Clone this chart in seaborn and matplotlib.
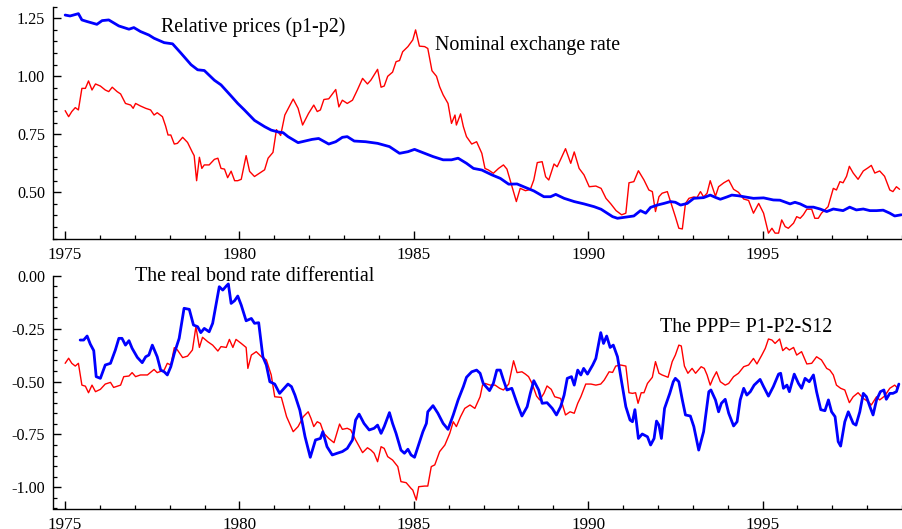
import numpy as np
import pandas as pd
import matplotlib
matplotlib.use("Agg")
import matplotlib.pyplot as plt
from matplotlib.ticker import MultipleLocator
import seaborn as sns

# ---------------- data ----------------
# Top panel: relative prices (p1-p2), blue
rp_t = [1975.00, 1975.14, 1975.38, 1975.48, 1975.63, 1975.91, 1976.06, 1976.25, 1976.54, 1976.83,
        1976.97, 1977.16, 1977.40, 1977.55, 1977.84, 1978.08, 1978.32, 1978.61, 1978.80, 1978.99,
        1979.28, 1979.47, 1979.76, 1979.95, 1980.14, 1980.43, 1980.72, 1980.91, 1981.11, 1981.25,
        1981.39, 1981.68, 1982.08, 1982.27, 1982.56, 1982.76, 1982.95, 1983.09, 1983.29, 1983.62,
        1983.96, 1984.30, 1984.59, 1984.83, 1985.02, 1985.31, 1985.55, 1985.84, 1986.08, 1986.27,
        1986.51, 1986.71, 1986.95, 1987.24, 1987.48, 1987.72, 1987.96, 1988.15, 1988.44, 1988.73,
        1988.92, 1989.07, 1989.31, 1989.60, 1989.88, 1990.17, 1990.37, 1990.70, 1990.84, 1991.03,
        1991.31, 1991.50, 1991.65, 1991.79, 1991.98, 1992.17, 1992.36, 1992.50, 1992.65, 1992.84,
        1993.03, 1993.31, 1993.50, 1993.65, 1993.79, 1993.98, 1994.12, 1994.31, 1994.50, 1994.74,
        1995.03, 1995.31, 1995.50, 1995.79, 1995.93, 1996.08, 1996.27, 1996.46, 1996.65, 1996.84,
        1997.03, 1997.31, 1997.50, 1997.69, 1997.89, 1998.08, 1998.27, 1998.46, 1998.65, 1998.79,
        1998.98]
rp_v = [1.264, 1.260, 1.270, 1.243, 1.236, 1.224, 1.240, 1.243, 1.217, 1.203,
        1.210, 1.193, 1.178, 1.164, 1.145, 1.140, 1.100, 1.050, 1.028, 1.025,
        0.983, 0.963, 0.915, 0.883, 0.855, 0.810, 0.783, 0.768, 0.760, 0.757,
        0.740, 0.714, 0.728, 0.732, 0.708, 0.718, 0.737, 0.740, 0.721, 0.718,
        0.711, 0.697, 0.668, 0.675, 0.685, 0.668, 0.654, 0.640, 0.640, 0.647,
        0.625, 0.603, 0.596, 0.575, 0.560, 0.535, 0.536, 0.524, 0.506, 0.481,
        0.481, 0.491, 0.474, 0.460, 0.450, 0.438, 0.427, 0.395, 0.388, 0.392,
        0.398, 0.421, 0.410, 0.435, 0.445, 0.452, 0.460, 0.457, 0.445, 0.452,
        0.474, 0.477, 0.488, 0.478, 0.470, 0.480, 0.488, 0.485, 0.480, 0.474,
        0.476, 0.467, 0.466, 0.450, 0.457, 0.450, 0.436, 0.436, 0.428, 0.417,
        0.428, 0.421, 0.436, 0.424, 0.428, 0.421, 0.421, 0.423, 0.410, 0.398,
        0.403]

# Top panel: nominal exchange rate, red
ne_t = [1975.00, 1975.10, 1975.19, 1975.29, 1975.38, 1975.48, 1975.58, 1975.67, 1975.77, 1975.87,
        1976.01, 1976.15, 1976.25, 1976.35, 1976.49, 1976.59, 1976.73, 1976.88, 1976.95, 1977.02,
        1977.16, 1977.31, 1977.45, 1977.55, 1977.64, 1977.79, 1977.88, 1977.95, 1978.03, 1978.13,
        1978.22, 1978.37, 1978.51, 1978.65, 1978.70, 1978.77, 1978.85, 1978.92, 1978.99, 1979.13,
        1979.28, 1979.38, 1979.47, 1979.57, 1979.66, 1979.76, 1979.86, 1979.95, 1980.05, 1980.19,
        1980.29, 1980.43, 1980.58, 1980.72, 1980.82, 1980.96, 1981.06, 1981.18, 1981.30, 1981.54,
        1981.68, 1981.81, 1981.98, 1982.13, 1982.23, 1982.32, 1982.42, 1982.56, 1982.76, 1982.85,
        1982.95, 1983.09, 1983.24, 1983.38, 1983.53, 1983.67, 1983.77, 1983.86, 1983.96, 1984.06,
        1984.15, 1984.25, 1984.39, 1984.49, 1984.59, 1984.68, 1984.83, 1984.97, 1985.05, 1985.16,
        1985.31, 1985.40, 1985.52, 1985.65, 1985.74, 1985.84, 1985.98, 1986.08, 1986.18, 1986.22,
        1986.34, 1986.42, 1986.51, 1986.66, 1986.80, 1986.95, 1987.04, 1987.14, 1987.28, 1987.43,
        1987.57, 1987.67, 1987.76, 1987.94, 1988.05, 1988.20, 1988.34, 1988.44, 1988.54, 1988.68,
        1988.78, 1988.87, 1989.02, 1989.11, 1989.21, 1989.35, 1989.50, 1989.60, 1989.74, 1989.88,
        1990.03, 1990.22, 1990.37, 1990.51, 1990.65, 1990.80, 1990.96, 1991.08, 1991.17, 1991.31,
        1991.44, 1991.60, 1991.74, 1991.84, 1991.93, 1992.03, 1992.12, 1992.27, 1992.41, 1992.50,
        1992.60, 1992.70, 1992.79, 1992.89, 1993.03, 1993.12, 1993.22, 1993.31, 1993.41, 1993.50,
        1993.65, 1993.74, 1993.89, 1994.03, 1994.17, 1994.31, 1994.46, 1994.60, 1994.74, 1994.89,
        1995.03, 1995.17, 1995.27, 1995.36, 1995.46, 1995.55, 1995.65, 1995.74, 1995.89, 1995.98,
        1996.08, 1996.17, 1996.27, 1996.41, 1996.50, 1996.60, 1996.69, 1996.88, 1997.03, 1997.12,
        1997.22, 1997.31, 1997.41, 1997.49, 1997.60, 1997.74, 1997.89, 1998.03, 1998.12, 1998.22,
        1998.36, 1998.50, 1998.65, 1998.74, 1998.84, 1998.93]
ne_v = [0.852, 0.826, 0.848, 0.865, 0.855, 0.948, 0.948, 0.980, 0.941, 0.967,
        0.958, 0.941, 0.934, 0.953, 0.934, 0.924, 0.883, 0.876, 0.862, 0.883,
        0.872, 0.862, 0.855, 0.833, 0.843, 0.826, 0.786, 0.747, 0.747, 0.708,
        0.711, 0.737, 0.715, 0.672, 0.658, 0.550, 0.651, 0.603, 0.618, 0.618,
        0.642, 0.647, 0.603, 0.600, 0.563, 0.591, 0.550, 0.550, 0.556, 0.658,
        0.590, 0.568, 0.583, 0.597, 0.647, 0.672, 0.770, 0.745, 0.833, 0.902,
        0.862, 0.790, 0.840, 0.876, 0.848, 0.855, 0.900, 0.903, 0.943, 0.868,
        0.897, 0.883, 0.897, 0.941, 0.991, 0.967, 0.984, 1.006, 1.030, 0.953,
        0.958, 1.000, 1.018, 1.063, 1.068, 1.106, 1.128, 1.157, 1.200, 1.130,
        1.128, 1.120, 1.024, 1.000, 0.955, 0.920, 0.883, 0.797, 0.833, 0.790,
        0.838, 0.783, 0.740, 0.708, 0.718, 0.668, 0.603, 0.596, 0.582, 0.603,
        0.618, 0.600, 0.553, 0.460, 0.517, 0.507, 0.512, 0.553, 0.628, 0.632,
        0.567, 0.553, 0.622, 0.610, 0.642, 0.688, 0.625, 0.674, 0.603, 0.575,
        0.524, 0.527, 0.517, 0.474, 0.450, 0.421, 0.403, 0.410, 0.541, 0.546,
        0.593, 0.553, 0.510, 0.503, 0.417, 0.481, 0.496, 0.503, 0.438, 0.395,
        0.345, 0.342, 0.452, 0.474, 0.480, 0.477, 0.503, 0.480, 0.496, 0.550,
        0.483, 0.524, 0.541, 0.553, 0.513, 0.500, 0.471, 0.465, 0.410, 0.452,
        0.410, 0.324, 0.345, 0.324, 0.324, 0.381, 0.352, 0.345, 0.367, 0.395,
        0.388, 0.403, 0.427, 0.427, 0.388, 0.388, 0.410, 0.438, 0.517, 0.510,
        0.546, 0.541, 0.569, 0.612, 0.583, 0.556, 0.592, 0.606, 0.616, 0.583,
        0.592, 0.569, 0.510, 0.503, 0.524, 0.513]

# Bottom panel: real bond rate differential, blue
bd_t = [1975.43, 1975.53, 1975.63, 1975.72, 1975.82, 1975.89, 1976.01, 1976.15, 1976.30, 1976.44,
        1976.54, 1976.63, 1976.73, 1976.83, 1976.92, 1977.07, 1977.21, 1977.31, 1977.40, 1977.50,
        1977.64, 1977.74, 1977.84, 1977.93, 1978.03, 1978.13, 1978.27, 1978.41, 1978.56, 1978.68,
        1978.80, 1978.89, 1978.99, 1979.13, 1979.23, 1979.42, 1979.52, 1979.62, 1979.68, 1979.76,
        1979.86, 1979.95, 1980.05, 1980.19, 1980.34, 1980.43, 1980.55, 1980.67, 1980.77, 1980.87,
        1981.01, 1981.15, 1981.39, 1981.49, 1981.59, 1981.73, 1981.88, 1982.03, 1982.18, 1982.32,
        1982.39, 1982.51, 1982.66, 1982.80, 1982.95, 1983.09, 1983.24, 1983.33, 1983.43, 1983.57,
        1983.72, 1983.86, 1983.96, 1984.06, 1984.15, 1984.30, 1984.39, 1984.49, 1984.63, 1984.73,
        1984.83, 1984.92, 1985.02, 1985.12, 1985.26, 1985.36, 1985.40, 1985.55, 1985.69, 1985.84,
        1985.98, 1986.13, 1986.27, 1986.42, 1986.51, 1986.66, 1986.80, 1986.90, 1986.99, 1987.17,
        1987.28, 1987.38, 1987.48, 1987.57, 1987.67, 1987.81, 1987.96, 1988.10, 1988.25, 1988.34,
        1988.44, 1988.58, 1988.68, 1988.82, 1988.97, 1989.09, 1989.21, 1989.31, 1989.40, 1989.52,
        1989.60, 1989.70, 1989.79, 1989.87, 1989.98, 1990.13, 1990.22, 1990.36, 1990.44, 1990.53,
        1990.63, 1990.72, 1990.84, 1990.95, 1991.08, 1991.20, 1991.27, 1991.34, 1991.44, 1991.55,
        1991.70, 1991.79, 1991.89, 1991.96, 1992.03, 1992.10, 1992.19, 1992.34, 1992.44, 1992.50,
        1992.60, 1992.70, 1992.79, 1992.93, 1993.03, 1993.17, 1993.31, 1993.36, 1993.46, 1993.52,
        1993.65, 1993.74, 1993.82, 1993.93, 1994.03, 1994.17, 1994.27, 1994.36, 1994.46, 1994.55,
        1994.65, 1994.76, 1994.93, 1995.03, 1995.17, 1995.31, 1995.46, 1995.52, 1995.60, 1995.70,
        1995.77, 1995.91, 1996.03, 1996.12, 1996.22, 1996.34, 1996.46, 1996.55, 1996.67, 1996.79,
        1996.89, 1996.98, 1997.08, 1997.17, 1997.24, 1997.36, 1997.46, 1997.60, 1997.68, 1997.79,
        1997.89, 1997.98, 1998.08, 1998.17, 1998.27, 1998.38, 1998.48, 1998.55, 1998.65, 1998.74,
        1998.84, 1998.91]
bd_v = [-0.304, -0.304, -0.285, -0.323, -0.354, -0.477, -0.485, -0.422, -0.414, -0.351,
        -0.296, -0.296, -0.328, -0.307, -0.343, -0.386, -0.411, -0.383, -0.375, -0.328,
        -0.383, -0.446, -0.454, -0.469, -0.430, -0.367, -0.296, -0.154, -0.159, -0.233,
        -0.241, -0.269, -0.249, -0.265, -0.225, -0.052, -0.068, -0.049, -0.039, -0.131,
        -0.118, -0.096, -0.139, -0.213, -0.202, -0.225, -0.222, -0.383, -0.422, -0.501,
        -0.512, -0.556, -0.512, -0.524, -0.564, -0.635, -0.761, -0.858, -0.776, -0.769,
        -0.737, -0.808, -0.847, -0.839, -0.831, -0.816, -0.776, -0.682, -0.654, -0.698,
        -0.729, -0.721, -0.706, -0.745, -0.713, -0.647, -0.698, -0.745, -0.824, -0.839,
        -0.820, -0.847, -0.858, -0.808, -0.737, -0.698, -0.643, -0.614, -0.650, -0.698,
        -0.726, -0.658, -0.587, -0.524, -0.480, -0.454, -0.446, -0.461, -0.509, -0.543,
        -0.509, -0.446, -0.446, -0.493, -0.540, -0.532, -0.603, -0.663, -0.619, -0.556,
        -0.496, -0.540, -0.603, -0.600, -0.627, -0.658, -0.619, -0.564, -0.485, -0.477,
        -0.517, -0.446, -0.469, -0.438, -0.465, -0.422, -0.391, -0.269, -0.320, -0.285,
        -0.339, -0.328, -0.383, -0.493, -0.619, -0.682, -0.690, -0.633, -0.769, -0.748,
        -0.761, -0.800, -0.769, -0.687, -0.706, -0.769, -0.627, -0.556, -0.501, -0.485,
        -0.501, -0.587, -0.658, -0.663, -0.713, -0.824, -0.737, -0.674, -0.548, -0.540,
        -0.587, -0.643, -0.603, -0.584, -0.650, -0.710, -0.690, -0.587, -0.532, -0.564,
        -0.548, -0.517, -0.490, -0.524, -0.569, -0.524, -0.465, -0.461, -0.532, -0.517,
        -0.548, -0.465, -0.509, -0.532, -0.485, -0.501, -0.469, -0.548, -0.633, -0.638,
        -0.587, -0.643, -0.666, -0.784, -0.805, -0.690, -0.643, -0.698, -0.706, -0.643,
        -0.556, -0.572, -0.619, -0.658, -0.587, -0.548, -0.540, -0.584, -0.556, -0.556,
        -0.548, -0.512]

# Bottom panel: PPP = P1-P2-S12, red
pp_t = [1975.00, 1975.10, 1975.19, 1975.29, 1975.38, 1975.48, 1975.58, 1975.67, 1975.77, 1975.87,
        1976.01, 1976.15, 1976.30, 1976.39, 1976.59, 1976.68, 1976.83, 1976.92, 1977.02, 1977.16,
        1977.36, 1977.55, 1977.64, 1977.84, 1977.93, 1978.03, 1978.13, 1978.22, 1978.37, 1978.51,
        1978.65, 1978.75, 1978.85, 1978.94, 1979.09, 1979.23, 1979.38, 1979.47, 1979.62, 1979.71,
        1979.81, 1979.90, 1980.05, 1980.19, 1980.24, 1980.34, 1980.48, 1980.63, 1980.77, 1980.91,
        1981.01, 1981.20, 1981.35, 1981.54, 1981.68, 1981.83, 1981.97, 1982.05, 1982.13, 1982.23,
        1982.32, 1982.42, 1982.56, 1982.71, 1982.87, 1982.95, 1983.09, 1983.19, 1983.33, 1983.53,
        1983.67, 1983.77, 1983.86, 1983.96, 1984.06, 1984.15, 1984.25, 1984.39, 1984.54, 1984.63,
        1984.78, 1984.92, 1984.97, 1985.07, 1985.14, 1985.31, 1985.40, 1985.50, 1985.60, 1985.74,
        1985.89, 1986.03, 1986.13, 1986.22, 1986.34, 1986.46, 1986.61, 1986.75, 1986.90, 1986.97,
        1987.04, 1987.19, 1987.33, 1987.46, 1987.57, 1987.72, 1987.86, 1987.96, 1988.10, 1988.20,
        1988.29, 1988.39, 1988.52, 1988.61, 1988.73, 1988.82, 1988.94, 1989.04, 1989.21, 1989.35,
        1989.48, 1989.60, 1989.70, 1989.79, 1989.93, 1990.08, 1990.22, 1990.36, 1990.46, 1990.60,
        1990.70, 1990.79, 1990.93, 1991.08, 1991.17, 1991.27, 1991.36, 1991.43, 1991.52, 1991.60,
        1991.70, 1991.84, 1991.93, 1992.03, 1992.12, 1992.29, 1992.41, 1992.50, 1992.60, 1992.67,
        1992.76, 1992.86, 1992.98, 1993.08, 1993.24, 1993.33, 1993.41, 1993.50, 1993.58, 1993.68,
        1993.79, 1993.93, 1994.03, 1994.17, 1994.31, 1994.46, 1994.60, 1994.74, 1994.84, 1994.98,
        1995.08, 1995.17, 1995.27, 1995.36, 1995.49, 1995.58, 1995.68, 1995.77, 1995.89, 1995.98,
        1996.12, 1996.27, 1996.41, 1996.55, 1996.69, 1996.84, 1996.93, 1997.03, 1997.12, 1997.24,
        1997.36, 1997.49, 1997.60, 1997.74, 1997.89, 1998.03, 1998.12, 1998.27, 1998.36, 1998.50,
        1998.65, 1998.79, 1998.88]
pp_v = [-0.414, -0.390, -0.414, -0.427, -0.414, -0.517, -0.522, -0.553, -0.517, -0.548,
        -0.537, -0.512, -0.504, -0.528, -0.517, -0.477, -0.474, -0.458, -0.477, -0.469,
        -0.469, -0.443, -0.458, -0.446, -0.414, -0.422, -0.340, -0.351, -0.387, -0.380,
        -0.351, -0.241, -0.339, -0.291, -0.312, -0.328, -0.356, -0.335, -0.339, -0.301,
        -0.339, -0.301, -0.320, -0.339, -0.438, -0.375, -0.359, -0.383, -0.398, -0.469,
        -0.572, -0.575, -0.666, -0.737, -0.713, -0.666, -0.643, -0.674, -0.713, -0.690,
        -0.698, -0.745, -0.769, -0.789, -0.701, -0.726, -0.721, -0.729, -0.776, -0.836,
        -0.813, -0.824, -0.839, -0.879, -0.808, -0.816, -0.855, -0.871, -0.902, -0.973,
        -0.978, -1.005, -1.013, -1.060, -0.997, -0.994, -0.994, -0.902, -0.894, -0.831,
        -0.800, -0.745, -0.690, -0.713, -0.666, -0.627, -0.611, -0.627, -0.572, -0.517,
        -0.509, -0.517, -0.517, -0.532, -0.540, -0.512, -0.402, -0.458, -0.454, -0.465,
        -0.477, -0.509, -0.569, -0.587, -0.556, -0.521, -0.537, -0.572, -0.580, -0.658,
        -0.643, -0.650, -0.603, -0.572, -0.512, -0.512, -0.517, -0.512, -0.493, -0.454,
        -0.457, -0.427, -0.422, -0.427, -0.553, -0.556, -0.553, -0.603, -0.553, -0.553,
        -0.509, -0.480, -0.406, -0.461, -0.469, -0.480, -0.406, -0.375, -0.328, -0.332,
        -0.427, -0.461, -0.438, -0.461, -0.430, -0.438, -0.469, -0.517, -0.485, -0.454,
        -0.501, -0.517, -0.509, -0.477, -0.461, -0.430, -0.422, -0.391, -0.417, -0.375,
        -0.343, -0.299, -0.304, -0.320, -0.299, -0.354, -0.339, -0.351, -0.339, -0.375,
        -0.359, -0.417, -0.414, -0.383, -0.398, -0.438, -0.446, -0.469, -0.517, -0.532,
        -0.540, -0.600, -0.572, -0.553, -0.580, -0.595, -0.611, -0.572, -0.587, -0.569,
        -0.532, -0.517, -0.532]

x_major = [1975, 1980, 1985, 1990, 1995]

# ---------------- styling ----------------
sns.set_style("white")
plt.rcParams["font.family"] = ["Liberation Serif", "DejaVu Serif"]
plt.rcParams["axes.linewidth"] = 1.0
plt.rcParams["text.color"] = "black"
plt.rcParams["xtick.color"] = "black"
plt.rcParams["ytick.color"] = "black"
plt.rcParams["axes.labelcolor"] = "black"

BLUE = "#0000ff"
RED = "#ff0000"

fig = plt.figure(figsize=(9.02, 5.29), dpi=100)
ax1 = fig.add_axes([53.3 / 902, 1 - 238.7 / 529, (902 - 53.3) / 902, 232.0 / 529])
ax2 = fig.add_axes([53.3 / 902, 1 - 508.5 / 529, (902 - 53.3) / 902, 232.8 / 529])

top = pd.DataFrame({"t": ne_t, "v": ne_v})
sns.lineplot(data=top, x="t", y="v", ax=ax1, color=RED, linewidth=1.0, estimator=None)
sns.lineplot(x=rp_t, y=rp_v, ax=ax1, color=BLUE, linewidth=2.0, estimator=None)

sns.lineplot(x=pp_t, y=pp_v, ax=ax2, color=RED, linewidth=1.0, estimator=None)
sns.lineplot(x=bd_t, y=bd_v, ax=ax2, color=BLUE, linewidth=2.0, estimator=None)

for ax in (ax1, ax2):
    ax.set_xlim(1974.66, 1999.0)
    ax.set_xticks(x_major)
    ax.set_xticklabels([str(v) for v in x_major])
    ax.xaxis.set_minor_locator(MultipleLocator(1))
    ax.yaxis.set_minor_locator(MultipleLocator(0.05))
    ax.yaxis.set_major_locator(MultipleLocator(0.25))
    ax.yaxis.set_major_formatter(matplotlib.ticker.FormatStrFormatter("%.2f"))
    ax.tick_params(which="major", direction="in", length=6, width=1.0,
                   colors="black", labelcolor="black")
    ax.tick_params(axis="x", which="major", labelsize=12.3, pad=6.0)
    ax.tick_params(axis="y", which="major", labelsize=11.6, pad=6.0)
    ax.tick_params(which="minor", direction="in", length=3, width=0.9, colors="black")
    ax.tick_params(axis="x", which="both", top=False, bottom=True)
    ax.tick_params(axis="y", which="both", left=True, right=False)
    for s in ("top", "right"):
        ax.spines[s].set_visible(False)
    for s in ("left", "bottom"):
        ax.spines[s].set_color("black")
    ax.set_xlabel("")
    ax.set_ylabel("")
    ax.set_facecolor("white")
    ax.patch.set_alpha(0)

ax1.set_ylim(0.30, 1.30)
ax1.set_yticks([0.50, 0.75, 1.00, 1.25])
ax2.set_ylim(-1.10, 0.0)
ax2.set_yticks([-1.00, -0.75, -0.50, -0.25, 0.00])

fs = 14.4
ax1.text(1977.75, 1.192, "Relative prices (p1-p2)", fontsize=fs, va="baseline", ha="left", color="black")
ax1.text(1985.61, 1.113, "Nominal exchange rate", fontsize=fs, va="baseline", ha="left", color="black")
ax2.text(1977.01, -0.024, "The real bond rate differential", fontsize=fs, va="baseline", ha="left", color="black")
ax2.text(1992.07, -0.265, "The PPP= P1-P2-S12", fontsize=fs, va="baseline", ha="left", color="black")

fig.savefig("out.png", dpi=100, facecolor="white")
